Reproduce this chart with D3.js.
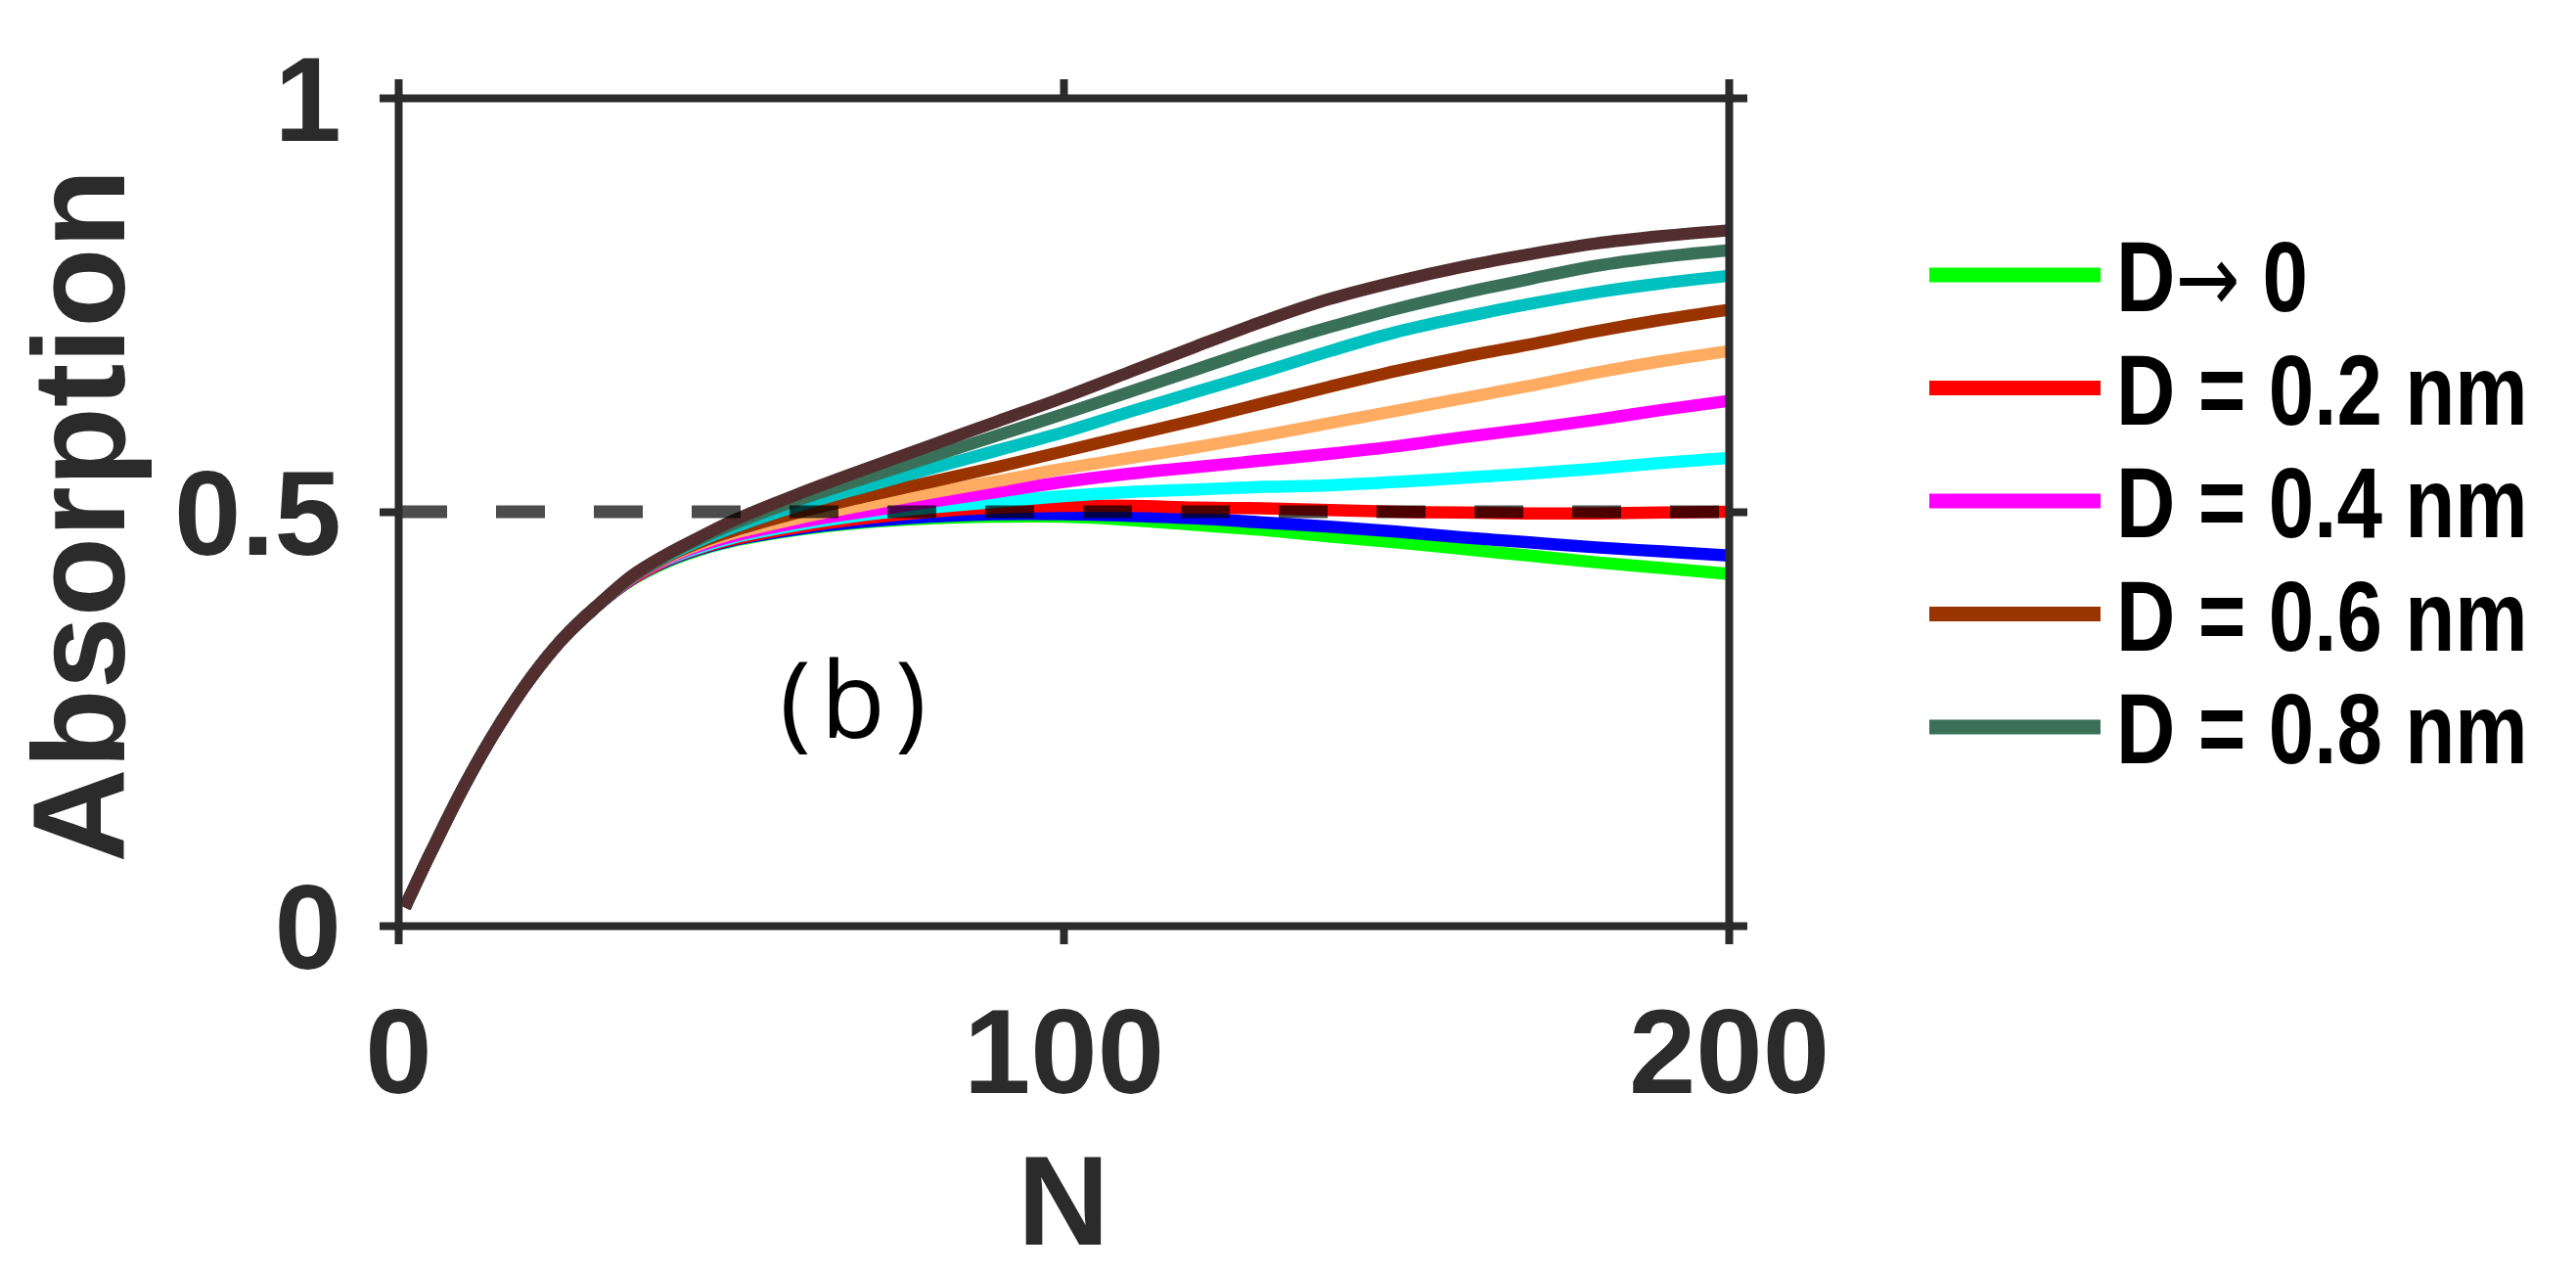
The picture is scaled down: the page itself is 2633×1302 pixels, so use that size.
<!DOCTYPE html>
<html><head><meta charset="utf-8">
<script src="https://cdn.jsdelivr.net/npm/d3@7"></script>
<style>body{margin:0;background:#fff;} svg{display:block;background:#fff}</style>
</head><body><svg id="c" width="2633" height="1302"></svg>
<script>
// ---------- data ----------
const layersN = [1, 5, 10, 15, 20, 25, 30, 35, 40, 45, 50, 60, 70, 80, 90, 100, 110, 120, 130, 140, 150, 160, 170, 180, 190, 200];
const earlyCommon = [0.022, 0.090, 0.170, 0.240, 0.300, 0.349, 0.387];
const absD0   = [0.417,0.438,0.453,0.464,0.478,0.487,0.492,0.494,0.494,0.490,0.484,0.478,0.470,0.463,0.455,0.447,0.439,0.432,0.425];
const absD01  = [0.418,0.439,0.454,0.465,0.479,0.488,0.494,0.497,0.497,0.495,0.492,0.487,0.482,0.476,0.469,0.463,0.457,0.452,0.447];
const absD02  = [0.418,0.440,0.455,0.466,0.481,0.492,0.500,0.505,0.507,0.507,0.505,0.504,0.502,0.500,0.499,0.498,0.498,0.499,0.500];
const absD03  = [0.419,0.441,0.456,0.468,0.484,0.496,0.505,0.512,0.519,0.524,0.527,0.530,0.532,0.536,0.541,0.546,0.552,0.559,0.565];
const absD04  = [0.419,0.442,0.458,0.470,0.487,0.500,0.512,0.524,0.536,0.546,0.554,0.562,0.570,0.579,0.590,0.600,0.611,0.623,0.634];
const absD05  = [0.420,0.443,0.460,0.473,0.492,0.508,0.523,0.537,0.552,0.565,0.578,0.592,0.607,0.622,0.637,0.652,0.668,0.682,0.694];
const absD06  = [0.420,0.444,0.462,0.476,0.499,0.518,0.536,0.554,0.573,0.592,0.611,0.631,0.651,0.670,0.687,0.702,0.718,0.732,0.744];
const absD07  = [0.421,0.445,0.464,0.480,0.507,0.530,0.552,0.574,0.596,0.621,0.645,0.669,0.694,0.717,0.735,0.751,0.765,0.776,0.785];
const absD08  = [0.421,0.446,0.466,0.484,0.514,0.540,0.566,0.592,0.618,0.645,0.672,0.699,0.723,0.745,0.764,0.781,0.797,0.808,0.816];
const absD09  = [0.422,0.447,0.468,0.488,0.521,0.551,0.580,0.609,0.638,0.669,0.700,0.730,0.757,0.778,0.796,0.811,0.824,0.833,0.840];
const seriesData   = [absD0, absD01, absD02, absD03, absD04, absD05, absD06, absD07, absD08, absD09];
const seriesColors = ["#00ff00","#0000ff","#ff0000","#00ffff","#ff00ff","#ffab62","#993300","#00c0c0","#3a7058","#532e2e"];
const legendLabels = ["D\u2192 0", "D = 0.2 nm", "D = 0.4 nm", "D = 0.6 nm", "D = 0.8 nm"];
const legendColors = ["#00ff00","#ff0000","#ff00ff","#993300","#3a7058"];
const xTicks = [0, 100, 200];
const yTicks = [0, 0.5, 1];
const refLevel = 0.5;

// ---------- drawing ----------
const svg = d3.select("#c");
const x = d3.scaleLinear().domain([0, 200]).range([407, 1767]);
const y = d3.scaleLinear().domain([0, 1]).range([946, 100]);
const axisColor = "#2b2b2b";
const boldFont = "'Liberation Sans', Arial, sans-serif";

const line = d3.line().x(d => x(d[0])).y(d => y(d[1])).curve(d3.curveCatmullRom.alpha(0.5));
const curves = svg.append("g").attr("fill", "none");
seriesData.forEach((vals, i) => {
  const full = earlyCommon.concat(vals);
  const pts = layersN.map((n, k) => [n, full[k]]);
  curves.append("path").attr("d", line(pts))
    .attr("stroke", seriesColors[i]).attr("stroke-width", 12.5)
    .attr("stroke-linejoin", "round");
});

// dashed reference line
svg.append("path")
  .attr("d", d3.line().x(d => x(d[0])).y(d => y(d[1]))([[0, refLevel], [200, refLevel]]))
  .attr("stroke", "#000").attr("stroke-opacity", 0.7)
  .attr("stroke-width", 13).attr("stroke-dasharray", "50 50").attr("fill", "none");

function styleAxis(g) {
  g.attr("font-family", boldFont).attr("font-weight", "bold").attr("font-size", 123);
  g.select(".domain").attr("stroke", axisColor).attr("stroke-width", 8).attr("stroke-linecap", "square");
  g.selectAll(".tick line").attr("stroke", axisColor).attr("stroke-width", 8);
  g.selectAll(".tick text").attr("fill", axisColor);
}
const gL = svg.append("g").attr("transform", "translate(407,0)")
  .call(d3.axisLeft(y).tickValues(yTicks).tickSize(19).tickSizeOuter(0).tickPadding(39).tickFormat(d3.format("~g")));
styleAxis(gL); gL.selectAll(".tick text").attr("dy", "0.35em");
const gR = svg.append("g").attr("transform", "translate(1767,0)")
  .call(d3.axisRight(y).tickValues(yTicks).tickSize(19).tickSizeOuter(0).tickFormat(""));
styleAxis(gR);
const gB = svg.append("g").attr("transform", "translate(0,946)")
  .call(d3.axisBottom(x).tickValues(xTicks).tickSize(19).tickSizeOuter(0).tickPadding(65).tickFormat(d3.format("d")));
styleAxis(gB);
const gT = svg.append("g").attr("transform", "translate(0,100)")
  .call(d3.axisTop(x).tickValues(xTicks).tickSize(19).tickSizeOuter(0).tickFormat(""));
styleAxis(gT);

// axis titles
svg.append("text").attr("transform", "translate(127,527) rotate(-90)")
  .attr("text-anchor", "middle").attr("font-family", boldFont).attr("font-weight", "bold")
  .attr("font-size", 133).attr("fill", axisColor).text("Absorption");
svg.append("text").attr("x", 1087).attr("y", 1272)
  .attr("text-anchor", "middle").attr("font-family", boldFont).attr("font-weight", "bold")
  .attr("font-size", 130).attr("fill", axisColor).text("N");

// panel label
svg.append("text").attr("x", 797).attr("y", 754)
  .attr("font-family", "'Open Sans', 'Noto Sans', sans-serif").attr("font-size", 108)
  .attr("letter-spacing", 10).attr("fill", "#000").text("(b)");

// legend
const leg = svg.append("g");
legendLabels.forEach((lab, i) => {
  const ly = 281 + i * 115.5;
  leg.append("line").attr("x1", 1972).attr("x2", 2147).attr("y1", ly).attr("y2", ly)
    .attr("stroke", legendColors[i]).attr("stroke-width", 15);
  const t = leg.append("text").attr("transform", `translate(2163,${ly + 37}) scale(0.82,1)`)
    .attr("font-family", boldFont).attr("font-weight", "bold").attr("font-size", 102).attr("fill", "#000");
  if (lab.indexOf("\u2192") >= 0) {
    const parts = lab.split("\u2192");
    t.append("tspan").text(parts[0]);
    t.append("tspan").attr("font-family", "'DejaVu Sans', sans-serif").attr("font-weight", "normal")
      .attr("font-size", 96).text("\u2192");
    t.append("tspan").text(parts[1]);
  } else {
    t.text(lab);
  }
});
</script></body></html>
